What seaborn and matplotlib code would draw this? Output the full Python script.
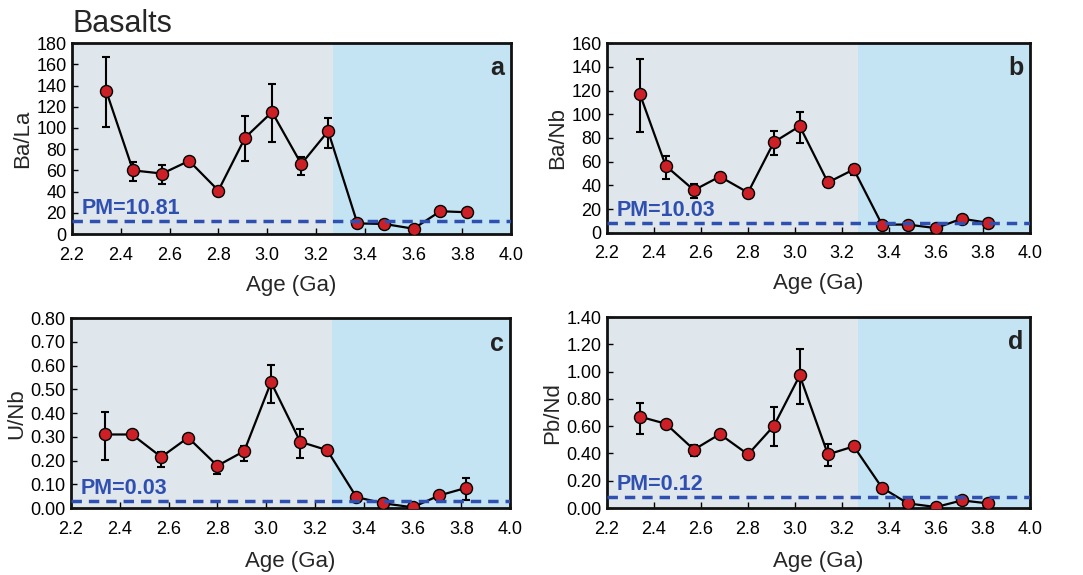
import numpy as np
import pandas as pd
import matplotlib
matplotlib.use("Agg")
import matplotlib.pyplot as plt
import seaborn as sns

# Ages of the binned basalt averages (Ga)
age = [2.34, 2.45, 2.57, 2.68, 2.80, 2.91, 3.02, 3.14, 3.25, 3.37, 3.48, 3.60, 3.71, 3.82]

# Ba/La
ba_la = [135, 60, 57, 69, 41, 91, 115, 66, 97, 10, 9.5, 5, 21.5, 20.5]
ba_la_lo = [34, 10, 10, 4, 3, 22, 28, 10, 16, 2, 2, 2, 3, 3]
ba_la_hi = [32, 7.5, 8, 3, 3, 20, 26, 7, 12, 2, 2, 2, 2, 2]

# Ba/Nb
ba_nb = [117, 56.5, 36, 47.5, 34, 76.5, 90, 42.5, 53.5, 7, 7, 4, 12, 8.5]
ba_nb_lo = [32, 11, 7, 3, 2, 11, 14, 4, 5, 1.5, 1.5, 1.5, 1.5, 1.5]
ba_nb_hi = [30, 8, 5, 3, 2, 9, 12, 3, 4, 1.5, 1.5, 1.5, 1.5, 1.5]

# U/Nb
u_nb = [0.31, 0.31, 0.215, 0.297, 0.178, 0.24, 0.53, 0.279, 0.244, 0.046, 0.02, 0.003, 0.053, 0.085]
u_nb_lo = [0.107, 0.015, 0.04, 0.015, 0.033, 0.04, 0.088, 0.069, 0.01, 0.01, 0.008, 0.005, 0.008, 0.053]
u_nb_hi = [0.093, 0.012, 0.02, 0.012, 0.018, 0.02, 0.072, 0.054, 0.008, 0.008, 0.008, 0.005, 0.008, 0.04]

# Pb/Nd
pb_nd = [0.67, 0.618, 0.428, 0.542, 0.393, 0.603, 0.972, 0.393, 0.452, 0.149, 0.034, 0.007, 0.056, 0.034]
pb_nd_lo = [0.125, 0.03, 0.05, 0.025, 0.025, 0.151, 0.21, 0.088, 0.015, 0.03, 0.02, 0.01, 0.015, 0.02]
pb_nd_hi = [0.102, 0.02, 0.036, 0.02, 0.02, 0.137, 0.196, 0.079, 0.012, 0.02, 0.015, 0.01, 0.012, 0.015]

ylabels = ["Ba/La", "Ba/Nb", "U/Nb", "Pb/Nd"]
panel_tags = ["a", "b", "c", "d"]
pm_labels = ["PM=10.81", "PM=10.03", "PM=0.03", "PM=0.12"]
pm_lines = [12.0, 8.4, 0.028, 0.078]
ymaxes = [180, 160, 0.80, 1.40]
ysteps = [20, 20, 0.10, 0.20]
yfmts = ["{:.0f}", "{:.0f}", "{:.2f}", "{:.2f}"]
split_age = 3.27

series = [(ba_la, ba_la_lo, ba_la_hi), (ba_nb, ba_nb_lo, ba_nb_hi),
          (u_nb, u_nb_lo, u_nb_hi), (pb_nd, pb_nd_lo, pb_nd_hi)]

sns.set_theme(style="ticks")
plt.rcParams["font.family"] = ["Liberation Sans", "DejaVu Sans"]

fig = plt.figure(figsize=(10.83, 5.75), dpi=100)
boxes = [[0.0665, 0.593, 0.4054, 0.332], [0.5605, 0.595, 0.3906, 0.330],
         [0.0656, 0.1165, 0.4054, 0.330], [0.5605, 0.1165, 0.3906, 0.332]]

for i, (vals, lo, hi) in enumerate(series):
    ax = fig.add_axes(boxes[i])
    df = pd.DataFrame({"age": age, "val": vals})
    ax.axvspan(2.2, split_age, color="#dfe7ec", zorder=0, lw=0)
    ax.axvspan(split_age, 4.0, color="#c4e4f3", zorder=0, lw=0)
    ax.errorbar(age, vals, yerr=[lo, hi], fmt="none", ecolor="black",
                elinewidth=1.5, capsize=3, capthick=1.5, zorder=2)
    sns.lineplot(data=df, x="age", y="val", color="black", lw=1.6,
                 ax=ax, zorder=3)
    sns.scatterplot(data=df, x="age", y="val", color="#cc1f26", s=75,
                    edgecolor="black", linewidth=1.0, ax=ax, zorder=4)
    ax.axhline(pm_lines[i], color="#2f50b0", ls=(0, (3, 2)), lw=2.5, zorder=5)
    ax.text(0.022, pm_lines[i] + ymaxes[i] * 0.01, pm_labels[i],
            transform=ax.get_yaxis_transform(), color="#2f50b0",
            fontsize=15.5, fontweight="bold", va="bottom", ha="left", zorder=6)
    ax.text(0.985, 0.93, panel_tags[i], transform=ax.transAxes, fontsize=18,
            fontweight="bold", ha="right", va="top", color="#222222")

    ax.set_xlim(2.2, 4.0)
    ax.set_ylim(0, ymaxes[i])
    ax.set_xticks(np.arange(2.2, 4.01, 0.2))
    ax.set_xticklabels([f"{t:.1f}" for t in np.arange(2.2, 4.01, 0.2)])
    yt = np.arange(0, ymaxes[i] + ysteps[i] / 2, ysteps[i])
    ax.set_yticks(yt)
    ax.set_yticklabels([yfmts[i].format(t) for t in yt])
    ax.tick_params(direction="in", length=4, width=1, labelsize=13,
                   colors="black", pad=4)
    ax.tick_params(axis="x", pad=9)
    for s in ax.spines.values():
        s.set_linewidth(2)
        s.set_color("#111111")
    ax.set_xlabel("Age (Ga)", fontsize=16, labelpad=8 if i < 2 else 10)
    ax.set_ylabel(ylabels[i], fontsize=16, labelpad=2)

fig.text(0.0665, 0.932, "Basalts", fontsize=22, ha="left", va="bottom")

plt.savefig("out.png", dpi=100)
